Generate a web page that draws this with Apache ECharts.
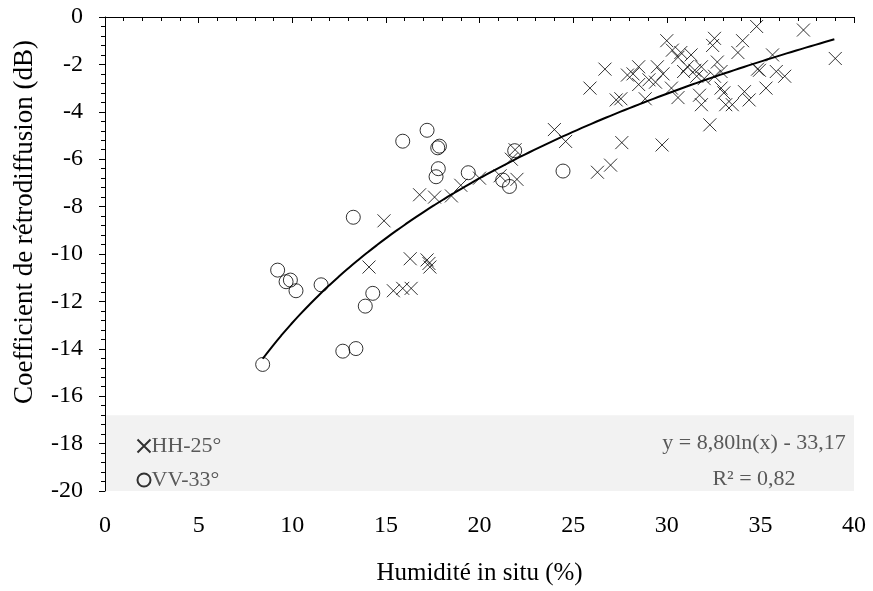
<!DOCTYPE html>
<html>
<head>
<meta charset="utf-8">
<script src="https://cdn.jsdelivr.net/npm/echarts@6/dist/echarts.min.js"></script>
<style>
html,body{margin:0;padding:0;background:#fff;}
#chart{width:873px;height:591px;}
</style>
</head>
<body>
<div id="chart"></div>
<script>
// ---- data ----
const hhName = 'HH-25°';
const vvName = 'VV-33°';
const xAxisTitle = 'Humidité in situ (%)';
const yAxisTitle = 'Coefficient de rétrodiffusion (dB)';
const eqText = 'y = 8,80ln(x) - 33,17';
const r2Text = 'R² = 0,82';
const trendA = 8.80;
const trendB = -33.17;
const trendXRange = [8.42, 38.95];

const hhPoints = [
  [14.9,-8.6],[14.1,-10.55],[16.3,-10.2],[17.2,-10.25],[17.3,-10.4],[17.35,-10.55],
  [15.4,-11.55],[15.9,-11.45],[16.35,-11.45],
  [16.8,-7.5],[17.6,-7.6],[18.5,-7.55],[19.0,-7.1],[20.0,-6.8],[21.1,-6.7],[22.0,-6.85],
  [21.7,-6.0],[21.9,-5.6],[24.0,-4.75],[24.6,-5.25],
  [27.6,-5.3],[29.75,-5.4],[26.3,-6.55],[27.0,-6.25],
  [25.9,-3.0],[26.7,-2.2],[27.3,-3.5],[27.55,-3.45],[27.9,-2.45],[28.5,-2.1],[28.2,-2.4],
  [28.85,-3.45],[28.5,-2.85],[29.05,-2.65],[29.5,-2.1],[29.4,-2.75],[29.8,-2.4],[30.0,-1.0],
  [30.3,-1.4],[30.75,-1.5],[30.6,-1.7],[30.25,-3.0],[30.6,-3.4],[31.1,-2.1],[31.5,-2.25],
  [31.85,-2.1],[31.75,-3.3],[31.85,-3.7],[32.3,-4.55],[32.0,-2.6],
  [34.8,-0.4],[37.3,-0.55],[39.0,-1.75],[34.05,-1.0],[32.55,-0.9],[32.45,-1.2],[33.8,-1.5],
  [35.65,-1.6],[34.85,-2.2],[34.95,-2.25],[35.85,-2.3],[36.3,-2.5],[35.3,-3.0],[34.15,-3.15],
  [34.4,-3.5],[33.5,-3.7],[33.15,-3.7],[32.9,-3.0],[33.05,-3.2],[32.7,-1.9],[32.55,-2.5],
  [32.9,-2.3],[31.3,-1.6],[30.9,-2.3],[31.6,-2.5]
];

const vvPoints = [
  [17.2,-4.78],[15.9,-5.24],[17.86,-5.45],[17.77,-5.52],[17.8,-6.4],[17.68,-6.74],
  [19.4,-6.57],[21.24,-6.88],[21.6,-7.15],[21.88,-5.64],[24.46,-6.5],
  [13.26,-8.45],[9.22,-10.68],[9.67,-11.17],[9.9,-11.1],[10.2,-11.55],[11.54,-11.3],
  [14.3,-11.66],[13.9,-12.2],[12.7,-14.1],[13.4,-13.99],[8.42,-14.66]
];

const legendBand = [-20, -16.8];
const xRange = [0, 40, 5];
const yRange = [-20, 0, 2];

// trendline drawn from the equation printed on the chart
const trendPoints = [];
for (let i = 0; i <= 60; i++) {
  const x = trendXRange[0] + (trendXRange[1] - trendXRange[0]) * i / 60;
  trendPoints.push([x, trendA * Math.log(x) + trendB]);
}

const FONT = "'Liberation Serif','Times New Roman',serif";
const chart = echarts.init(document.getElementById('chart'), null, {renderer: 'canvas'});

const crossPath = 'path://M0,0L100,100M100,0L0,100';

chart.setOption({
  animation: false,
  backgroundColor: '#ffffff',
  grid: {left: 105, right: 19, top: 17, bottom: 93, containLabel: false},
  xAxis: {
    type: 'value', min: xRange[0], max: xRange[1], interval: xRange[2], z: 5,
    name: xAxisTitle, nameLocation: 'middle', nameGap: 70,
    nameTextStyle: {fontFamily: FONT, fontSize: 25, color: '#000'},
    axisLine: {show: true, lineStyle: {color: '#000', width: 1}},
    axisTick: {show: true, length: 6, lineStyle: {color: '#000'}},
    minorTick: {show: true, splitNumber: 5, length: 4, lineStyle: {color: '#000'}},
    axisLabel: {fontFamily: FONT, fontSize: 24, color: '#000', margin: 23},
    splitLine: {show: false}
  },
  yAxis: {
    type: 'value', min: yRange[0], max: yRange[1], interval: yRange[2], z: 5,
    name: yAxisTitle, nameLocation: 'middle', nameGap: 67, nameRotate: 90,
    nameTextStyle: {fontFamily: FONT, fontSize: 27, color: '#000', padding: [0, 0, 0, 64]},
    axisLine: {show: true, lineStyle: {color: '#000', width: 1}},
    axisTick: {show: true, length: 6, lineStyle: {color: '#000'}},
    minorTick: {show: true, splitNumber: 5, length: 4, lineStyle: {color: '#000'}},
    axisLabel: {fontFamily: FONT, fontSize: 24, color: '#000', margin: 22},
    splitLine: {show: false}
  },
  legend: {
    data: [hhName, vvName],
    orient: 'vertical', left: 130, top: 430,
    itemWidth: 13, itemHeight: 13, itemGap: 12,
    textStyle: {fontFamily: FONT, fontSize: 22, color: '#595959', padding: [0,0,0,-4]}
  },
  graphic: [
    {type: 'text', z: 100, x: 754, y: 443, style: {text: eqText, fontFamily: FONT, fontSize: 22, fill: '#595959', textAlign: 'center', textVerticalAlign: 'middle'}},
    {type: 'text', z: 100, x: 754, y: 479, style: {text: r2Text, fontFamily: FONT, fontSize: 22, fill: '#595959', textAlign: 'center', textVerticalAlign: 'middle'}}
  ],
  series: [
    {
      name: 'band', type: 'line', data: [], z: 0, silent: true,
      markArea: {silent: true, itemStyle: {color: '#f2f2f2'}, data: [[{yAxis: legendBand[0]}, {yAxis: legendBand[1]}]]}
    },
    {
      name: 'trend', type: 'line', data: trendPoints, smooth: true, showSymbol: false, z: 3,
      lineStyle: {color: '#000', width: 2}, silent: true
    },
    {
      name: hhName, type: 'scatter', data: hhPoints, symbol: crossPath, symbolSize: 13, z: 4,
      itemStyle: {color: 'none', borderColor: '#000', borderWidth: 1}
    },
    {
      name: vvName, type: 'scatter', data: vvPoints, symbol: 'circle', symbolSize: 14, z: 4,
      itemStyle: {color: 'rgba(0,0,0,0)', borderColor: '#000', borderWidth: 1}
    }
  ]
});
</script>
</body>
</html>
